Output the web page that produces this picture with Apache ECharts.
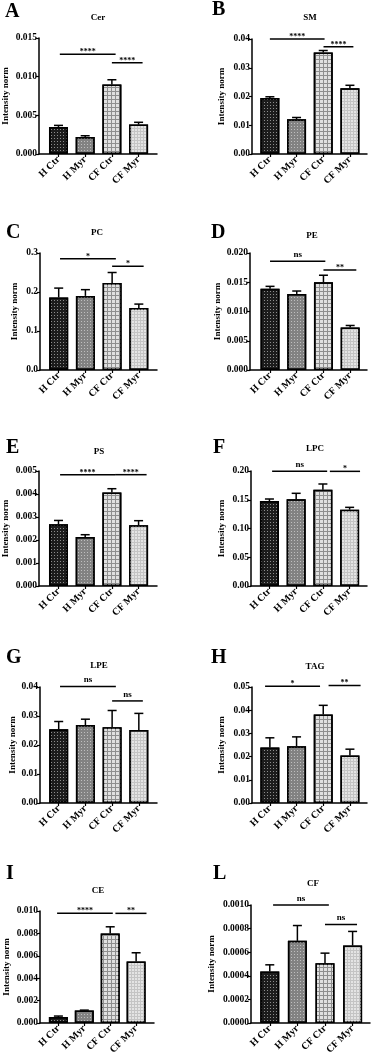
<!DOCTYPE html>
<html><head><meta charset="utf-8">
<script src="https://cdn.jsdelivr.net/npm/echarts@6/dist/echarts.min.js"></script>
<style>html,body{margin:0;padding:0;background:#fff}#c{width:374px;height:1064px}</style>
</head><body><div id="c"></div>
<script>
// ---------- data ----------
const categories = ['H Ctr', 'H Myr', 'CF Ctr', 'CF Myr'];
const panelLetters = ['A', 'B', 'C', 'D', 'E', 'F', 'G', 'H', 'I', 'L'];
const panelTitles = ['Cer', 'SM', 'PC', 'PE', 'PS', 'LPC', 'LPE', 'TAG', 'CE', 'CF'];

const cerMean = [0.0035, 0.0022, 0.0090, 0.0038];
const cerErr  = [0.0002, 0.00016, 0.0006, 0.0003];
const smMean  = [0.0195, 0.0121, 0.0353, 0.0229];
const smErr   = [0.0004, 0.0006, 0.0007, 0.0010];
const pcMean  = [0.186, 0.190, 0.223, 0.159];
const pcErr   = [0.024, 0.016, 0.027, 0.010];
const peMean  = [0.0139, 0.0130, 0.0150, 0.00726];
const peErr   = [0.0004, 0.0005, 0.0012, 0.00035];
const psMean  = [0.00268, 0.00213, 0.00406, 0.00264];
const psErr   = [0.00017, 0.0001, 0.00017, 0.0002];
const lpcMean = [0.1478, 0.1507, 0.1675, 0.1328];
const lpcErr  = [0.0035, 0.0105, 0.0099, 0.0040];
const lpeMean = [0.0254, 0.0269, 0.0261, 0.0252];
const lpeErr  = [0.0027, 0.0020, 0.0058, 0.0057];
const tagMean = [0.0239, 0.0245, 0.0382, 0.0205];
const tagErr  = [0.0042, 0.0040, 0.0039, 0.0027];
const ceMean  = [0.00053, 0.00112, 0.00799, 0.0055];
const ceErr   = [0.00009, 0.00003, 0.0006, 0.00077];
const cfMean  = [0.000437, 0.000696, 0.000507, 0.000656];
const cfErr   = [0.000056, 0.00013, 0.000085, 0.00012];

const means = [cerMean, smMean, pcMean, peMean, psMean, lpcMean, lpeMean, tagMean, ceMean, cfMean];
const errs  = [cerErr, smErr, pcErr, peErr, psErr, lpcErr, lpeErr, tagErr, ceErr, cfErr];

// y-axis scale
const yMax      = [0.015, 0.04, 0.3, 0.02, 0.005, 0.20, 0.04, 0.05, 0.010, 0.0010];
const yInterval = [0.005, 0.01, 0.1, 0.005, 0.001, 0.05, 0.01, 0.01, 0.002, 0.0002];
const yDecimals = [3, 2, 1, 3, 3, 2, 2, 2, 3, 4];

// significance brackets: [fromCat, toCat, yValue, text]
const brackets = [
  [[0.05, 2.14, 0.0129, '****'], [2.0, 3.15, 0.0118, '****']],
  [[0.0, 2.05, 0.0400, '****'], [2.01, 3.13, 0.0373, '****']],
  [[0.05, 2.14, 0.285, '*'], [2.0, 3.18, 0.266, '*']],
  [[0.0, 2.07, 0.0186, 'ns'], [2.0, 3.23, 0.0171, '**']],
  [[0.06, 2.12, 0.00484, '****'], [2.12, 3.3, 0.00484, '****']],
  [[0.1, 2.16, 0.1994, 'ns'], [2.26, 3.39, 0.1994, '*']],
  [[0.05, 2.14, 0.0402, 'ns'], [2.0, 3.15, 0.0352, 'ns']],
  [[-0.18, 1.88, 0.0503, '*'], [2.2, 3.4, 0.0507, '**']],
  [[-0.05, 2.1, 0.00979, '****'], [2.2, 3.4, 0.00979, '**']],
  [[0.12, 2.14, 0.0010, 'ns'], [2.0, 3.16, 0.000834, 'ns']]
];

// ---------- layout (pixels) ----------
// [left, top, right, bottom, xMin, xMax, nameGap]
const layout = [
  [39, 38, 157, 154, -0.73, 3.69, 29],
  [252, 39, 367, 154, -0.67, 3.64, 26],
  [40, 253, 157, 370, -0.70, 3.68, 21],
  [250, 253, 367, 370, -0.75, 3.63, 28],
  [39, 471, 157, 586, -0.73, 3.69, 29],
  [251, 471, 367, 586, -0.69, 3.65, 25],
  [40, 687, 157, 803, -0.70, 3.68, 23],
  [252, 687, 367, 803, -0.67, 3.64, 26],
  [40, 911, 154, 1023, -0.71, 3.69, 29],
  [251, 905, 370, 1023, -0.68, 3.63, 35]
];
const letterPos = [[5, 12], [212, 9.5], [6, 232.5], [211, 232.5], [6, 447.5], [213, 447.5], [6, 657.5], [211, 657.5], [6, 873.5], [213, 873.5]];
const titlePos = [[98, 18], [310, 18], [97, 233], [312, 236], [99, 452], [315, 449], [99, 666], [315, 667], [98, 891], [313, 884]];

const SERIF = '"Liberation Serif", "DejaVu Serif", serif';
const barStyles = [
  { color: '#1c1c1c', decal: { symbol: 'rect', symbolSize: 1, color: 'rgba(235,235,235,0.55)', dashArrayX: [1, 2], dashArrayY: [1, 2] } },
  { color: '#828282', decal: { symbol: 'rect', symbolSize: 1, color: 'rgba(215,215,215,0.7)', dashArrayX: [1, 2], dashArrayY: [1, 2] } },
  { color: '#8e8e8e', decal: { symbol: 'rect', symbolSize: 1, color: '#e0e0e0', dashArrayX: [3, 1], dashArrayY: [3, 1] } },
  { color: '#c4c4c4', decal: { symbol: 'rect', symbolSize: 1, color: '#e4e4e4', dashArrayX: [2, 1], dashArrayY: [2, 1] } }
];

const grids = [], xAxes = [], yAxes = [], series = [], graphics = [];
for (let p = 0; p < 10; p++) {
  const L = layout[p];
  grids.push({ left: L[0], top: L[1], width: L[2] - L[0], height: L[3] - L[1], containLabel: false });
  xAxes.push({
    type: 'value', gridIndex: p, min: L[4], max: L[5],
    splitLine: { show: false },
    axisLine: { show: true, onZero: false, lineStyle: { color: '#000', width: 1.5 } },
    axisTick: { show: true, customValues: [0, 1, 2, 3], length: 3, lineStyle: { color: '#000', width: 1.2 } },
    axisLabel: {
      show: true, customValues: [0, 1, 2, 3], rotate: 45, margin: 4,
      formatter: v => categories[Math.round(v)],
      fontFamily: SERIF, fontWeight: 'bold', fontSize: 10, color: '#000'
    }
  });
  const dec = yDecimals[p];
  yAxes.push({
    type: 'value', gridIndex: p, min: 0, max: yMax[p], interval: yInterval[p],
    name: 'Intensity norm', nameLocation: 'middle', nameGap: L[6],
    nameTextStyle: { fontFamily: SERIF, fontWeight: 'bold', fontSize: 9, color: '#000' },
    splitLine: { show: false },
    axisLine: { show: true, onZero: false, lineStyle: { color: '#000', width: 1.5 } },
    axisTick: { show: true, length: 3, lineStyle: { color: '#000', width: 1.2 } },
    axisLabel: { margin: 2, formatter: v => v.toFixed(dec), fontFamily: SERIF, fontWeight: 'bold', fontSize: 9.5, color: '#000' }
  });
  series.push({
    type: 'bar', xAxisIndex: p, yAxisIndex: p, barWidth: 19, silent: true,
    data: means[p].map((v, i) => ({
      value: [i, v],
      itemStyle: { color: barStyles[i].color, decal: barStyles[i].decal, borderColor: '#000', borderWidth: 1.5 }
    }))
  });
  series.push({
    type: 'custom', xAxisIndex: p, yAxisIndex: p, silent: true, z: 3,
    encode: { x: 0, y: 1 },
    data: means[p].map((v, i) => [i, v, errs[p][i]]),
    renderItem: (params, api) => {
      const i = api.value(0), m = api.value(1), e = api.value(2);
      const b = api.coord([i, m]), t = api.coord([i, m + e]);
      return {
        type: 'group', children: [
          { type: 'line', shape: { x1: b[0], y1: b[1], x2: t[0], y2: t[1] }, style: { stroke: '#000', lineWidth: 1.5 } },
          { type: 'line', shape: { x1: t[0] - 4.5, y1: t[1], x2: t[0] + 4.5, y2: t[1] }, style: { stroke: '#000', lineWidth: 1.5 } }
        ]
      };
    }
  });
  series.push({
    type: 'custom', xAxisIndex: p, yAxisIndex: p, silent: true, z: 4, clip: false,
    encode: { x: [0, 1], y: 2 },
    data: brackets[p].map(b => [b[0], b[1], b[2]]),
    renderItem: (params, api) => {
      const idx = params.dataIndex;
      const txt = brackets[p][idx][3];
      const a = api.coord([api.value(0), api.value(2)]), c = api.coord([api.value(1), api.value(2)]);
      const star = txt.indexOf('*') >= 0;
      return {
        type: 'group', children: [
          { type: 'line', shape: { x1: a[0], y1: a[1], x2: c[0], y2: a[1] }, style: { stroke: '#000', lineWidth: 1.5 } },
          { type: 'text', x: (a[0] + c[0]) / 2, y: a[1] - 2,
            style: { text: txt, fill: '#000', font: 'bold ' + (star ? 8 : 9) + 'px ' + SERIF,
              align: 'center', verticalAlign: star ? 'middle' : 'bottom', textAlign: 'center', textVerticalAlign: star ? 'middle' : 'bottom' } }
        ]
      };
    }
  });
  graphics.push({
    type: 'text', x: letterPos[p][0], y: letterPos[p][1], silent: true,
    style: { text: panelLetters[p], fill: '#000', font: 'bold 20px ' + SERIF, align: 'left', verticalAlign: 'middle', textAlign: 'left', textVerticalAlign: 'middle' }
  });
  graphics.push({
    type: 'text', x: titlePos[p][0], y: titlePos[p][1], silent: true,
    style: { text: panelTitles[p], fill: '#000', font: 'bold 9px ' + SERIF, align: 'center', verticalAlign: 'middle', textAlign: 'center', textVerticalAlign: 'middle' }
  });
}

const chart = echarts.init(document.getElementById('c'), null, { renderer: 'canvas' });
chart.setOption({
  backgroundColor: '#fff',
  animation: false,
  grid: grids, xAxis: xAxes, yAxis: yAxes, series: series, graphic: graphics
});
</script>
</body></html>
